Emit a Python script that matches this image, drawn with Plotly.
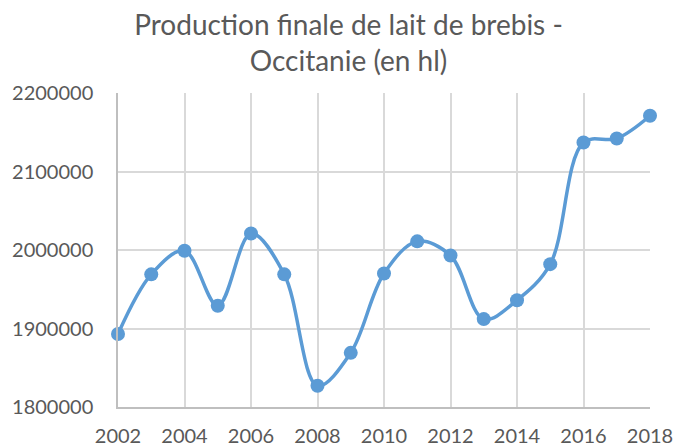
import plotly.graph_objects as go

years = list(range(2002, 2019))
production = [1893000, 1969000, 1999000, 1929000, 2021000, 1969000, 1827000,
              1869000, 1970000, 2011000, 1993000, 1912000, 1936000, 1982000,
              2137000, 2142000, 2171000]
x_ticks = list(range(2002, 2019, 2))
y_ticks = [1800000, 1900000, 2000000, 2100000, 2200000]

fig = go.Figure(go.Scatter(
    x=years, y=production, mode="lines+markers",
    line=dict(color="#5B9BD5", width=3.5, shape="spline", smoothing=1),
    marker=dict(color="#5B9BD5", size=14),
    cliponaxis=False,
))

fig.update_layout(
    width=677, height=448,
    margin=dict(l=118, r=27, t=93, b=41),
    paper_bgcolor="white", plot_bgcolor="white",
    showlegend=False,
    font=dict(family="Lato, Open Sans, sans-serif", color="#595959"),
    title=dict(text="Production finale de lait de brebis -<br>Occitanie (en hl)",
               x=348.5 / 677, xanchor="center", y=1 - 35 / 448, yanchor="top",
               font=dict(size=28, color="#595959")),
)
fig.update_xaxes(range=[2002, 2018], tickvals=x_ticks, ticktext=[str(v) for v in x_ticks],
                 showgrid=True, gridcolor="#D9D9D9", gridwidth=1.5,
                 showline=True, linecolor="#BFBFBF", linewidth=1.5,
                 tickfont=dict(size=20, color="#595959"), ticks="", zeroline=False,
                 ticklabelstandoff=10, automargin=False)
fig.update_yaxes(range=[1800000, 2200000], tickvals=y_ticks, ticktext=[str(v) for v in y_ticks],
                 showgrid=True, gridcolor="#D9D9D9", gridwidth=1.5,
                 showline=True, linecolor="#BFBFBF", linewidth=1.5,
                 tickfont=dict(size=20, color="#595959"), ticks="", zeroline=False,
                 ticklabelstandoff=19, automargin=False)

fig.write_html("out.html", config={"displayModeBar": False},
               post_script="document.body.style.margin='0';document.body.style.overflow='hidden';")
